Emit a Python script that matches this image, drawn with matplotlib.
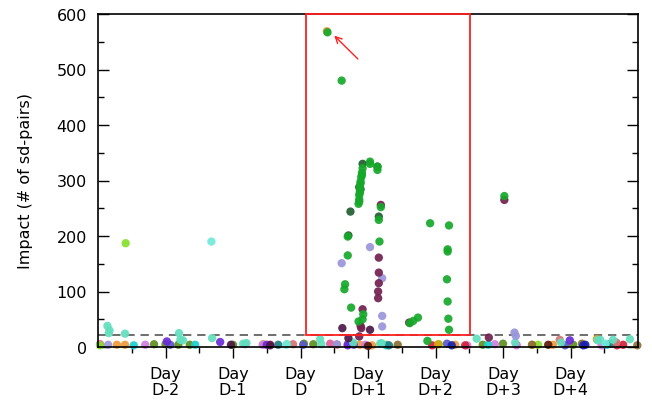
import matplotlib

matplotlib.use("Agg")

import matplotlib.pyplot as plt
from matplotlib.patches import Rectangle
from matplotlib.ticker import FixedLocator, MultipleLocator

# day offsets relative to the event day D, impact in number of sd-pairs
DAY_POSITIONS = [-2, -1, 0, 1, 2, 3, 4]
DAY_LABELS = ["Day\nD-2", "Day\nD-1", "Day\nD", "Day\nD+1", "Day\nD+2", "Day\nD+3", "Day\nD+4"]
THRESHOLD = 22
HIGHLIGHT_START = 0.08
HIGHLIGHT_END = 2.51

GREEN_X = [0.40, 0.61, 1.03, 1.03, 1.14, 1.14, 0.92, 0.91, 0.90, 0.89, 0.88, 0.88, 0.87, 0.87,
           0.86, 0.87, 0.91, 0.89, 0.88, 1.19, 1.16, 0.70, 1.17, 0.70, 0.66, 0.65, 0.75, 0.93,
           0.92, 0.86, 1.62, 1.67, 1.74, 1.92, 2.20, 2.18, 2.18, 2.17, 2.18, 2.19, 2.20, 1.88, 3.02]
GREEN_Y = [567, 480, 334, 330, 325, 319, 322, 314, 306, 298, 290, 282, 274, 266,
           258, 262, 310, 295, 278, 252, 229, 199, 190, 165, 113, 104, 71, 59,
           50, 46, 43, 47, 53, 223, 219, 176, 172, 122, 82, 51, 31, 11, 272]

DARKGREEN_X = [0.92, 1.14, 0.87, 0.89, 0.74, 1.16, 0.71]
DARKGREEN_Y = [330, 325, 288, 284, 244, 235, 201]

MAROON_X = [1.19, 1.16, 1.16, 1.16, 1.15, 1.15, 0.92, 0.89, 0.90, 0.87, 1.61, 3.02, 2.79]
MAROON_Y = [256, 161, 134, 115, 100, 88, 68, 38, 34, 19, 44, 265, 17]

PLUM_X = [0.62, 1.03, 0.71, -1.03, -0.45]
PLUM_Y = [34, 31, 16, 4, 3]

LAVENDER_X = [1.03, 0.61, 1.21, 1.21, 1.21, 3.17, 3.19, 0.54, -2.85]
LAVENDER_Y = [180, 151, 124, 56, 37, 26, 20, 5, 4]

TURQUOISE_X = [-2.86, -2.84, -2.83, -2.60, -1.80, -1.78, -1.74, -1.31, -0.85, -0.80, -0.20,
               0.29, 0.31, 0.78, 1.18, 1.20, 2.61, 3.18, 3.86, 4.40, 4.44, 4.63, 4.88]
TURQUOISE_Y = [38, 25, 30, 24, 25, 13, 12, 16, 6, 7, 5,
               14, 5, 8, 6, 7, 15, 8, 8, 12, 13, 13, 14]

AQUA_X = [-1.32, -0.21, 4.52]
AQUA_Y = [190, 4, 6]

LIME_X = [-2.59, -2.97, 3.52, 2.05]
LIME_Y = [187, 3, 4, 5]

ORANGE_X = [0.39, -2.72, -2.60, 0.88, 1.06, 1.28, 2.29, 3.43, 3.74, -0.55]
ORANGE_Y = [569, 4, 4, 4, 3, 4, 4, 4, 4, 5]

OLIVE_X = [-2.17, -2.00, -1.81, -1.64, -1.00, 0.05, 0.19, 2.70, 3.00, 4.04]
OLIVE_Y = [5, 5, 4, 4, 4, 6, 5, 4, 6, 4]

VIOLET_X = [-2.30, -0.82, -0.56, 0.96, 2.47, 2.88, 3.20, 4.46]
VIOLET_Y = [4, 5, 4, 4, 3, 5, 3, 3]

INDIGO_X = [-1.98, -1.19, -0.50, 3.99, 0.70]
INDIGO_Y = [10, 9, 4, 12, 3]

SLATE_X = [-1.93, 0.04, 0.70, 0.79, 2.17, 3.92]
SLATE_Y = [4, 4, 5, 4, 6, 3]

CYAN_X = [-2.47, -1.56, 2.78, 1.27, 4.54]
CYAN_Y = [3, 4, 4, 3, 4]

CRIMSON_X = [-0.45, 1.95, 2.44, 4.69, 4.78]
CRIMSON_Y = [4, 3, 3, 3, 4]

TEAL_X = [-0.33, 1.31, 4.60]
TEAL_Y = [4, 3, 6]

SALMON_X = [-0.11, 0.54, 3.84, 4.68]
SALMON_Y = [5, 4, 13, 8]

GOLD_X = [2.04, 4.39]
GOLD_Y = [5, 14]

BROWN_X = [1.44, 3.43, 4.99, 4.17]
BROWN_Y = [4, 4, 3, 6]

NAVY_X = [4.19, 4.22, 2.24]
NAVY_Y = [3, 4, 3]

DARKBROWN_X = [3.67, 1.00]
DARKBROWN_Y = [4, 2]

PINK_X = [-2.97, 0.44, 3.20]
PINK_Y = [5, 6, 4]

SERIES = [
    (PINK_X, PINK_Y, "#e0609a"),
    (LIME_X, LIME_Y, "#86e02c"),
    (OLIVE_X, OLIVE_Y, "#5f8f22"),
    (ORANGE_X, ORANGE_Y, "#ee9a3c"),
    (VIOLET_X, VIOLET_Y, "#d07ee0"),
    (SLATE_X, SLATE_Y, "#5a58c8"),
    (CYAN_X, CYAN_Y, "#1ccfcf"),
    (CRIMSON_X, CRIMSON_Y, "#d2203c"),
    (TEAL_X, TEAL_Y, "#1f7f82"),
    (SALMON_X, SALMON_Y, "#d77474"),
    (GOLD_X, GOLD_Y, "#d4a410"),
    (BROWN_X, BROWN_Y, "#8a7036"),
    (NAVY_X, NAVY_Y, "#1a22b0"),
    (DARKBROWN_X, DARKBROWN_Y, "#5c1a0e"),
    (INDIGO_X, INDIGO_Y, "#6a2ad8"),
    (TURQUOISE_X, TURQUOISE_Y, "#62dfbe"),
    (AQUA_X, AQUA_Y, "#72ead8"),
    (LAVENDER_X, LAVENDER_Y, "#9a96da"),
    (PLUM_X, PLUM_Y, "#4e1848"),
    (MAROON_X, MAROON_Y, "#72204f"),
    (DARKGREEN_X, DARKGREEN_Y, "#1f5e30"),
    (GREEN_X, GREEN_Y, "#16a82a"),
]

plt.rcParams["font.family"] = "DejaVu Sans"
plt.rcParams["font.size"] = 11.5

figure = plt.figure(figsize=(6.52, 4.02), dpi=100)
axis = figure.add_axes([98 / 652, 1 - 348 / 402, 540 / 652, 333 / 402])

axis.axhline(THRESHOLD, color="#555555", lw=1.2, dashes=(5, 3.5), zorder=1)

for xs, ys, color in SERIES:
    axis.scatter(xs, ys, s=36, color=color, edgecolors="none", alpha=0.92, zorder=2, clip_on=False)

axis.add_patch(
    Rectangle(
        (HIGHLIGHT_START, THRESHOLD),
        HIGHLIGHT_END - HIGHLIGHT_START,
        600 - THRESHOLD,
        fill=False,
        edgecolor="#ff2020",
        lw=1.3,
        zorder=3,
        clip_on=False,
    )
)
axis.annotate(
    "",
    xy=(GREEN_X[0] + 0.1, GREEN_Y[0] - 6),
    xytext=(0.85, 519),
    arrowprops=dict(arrowstyle="->", color="#ff2020", lw=1.0, shrinkA=0, shrinkB=0),
    zorder=4,
)

axis.set_xlim(-3, 5)
axis.set_ylim(0, 600)
axis.set_xticks(DAY_POSITIONS, labels=DAY_LABELS, linespacing=1.05)
axis.xaxis.set_minor_locator(FixedLocator([d + 0.5 for d in [-3] + DAY_POSITIONS]))
axis.yaxis.set_major_locator(MultipleLocator(100))
axis.yaxis.set_minor_locator(MultipleLocator(50))
axis.tick_params(axis="x", which="major", direction="out", length=8, width=1, pad=6)
axis.tick_params(axis="x", which="minor", direction="out", length=4, width=1)
axis.tick_params(axis="y", which="major", direction="in", length=8, width=1, right=True, pad=8)
axis.tick_params(axis="y", which="minor", direction="in", length=4, width=1, right=True)
for spine in axis.spines.values():
    spine.set_linewidth(1.2)

axis.set_ylabel("Impact (# of sd-pairs)", labelpad=17)

figure.savefig("out.png", dpi=100)
